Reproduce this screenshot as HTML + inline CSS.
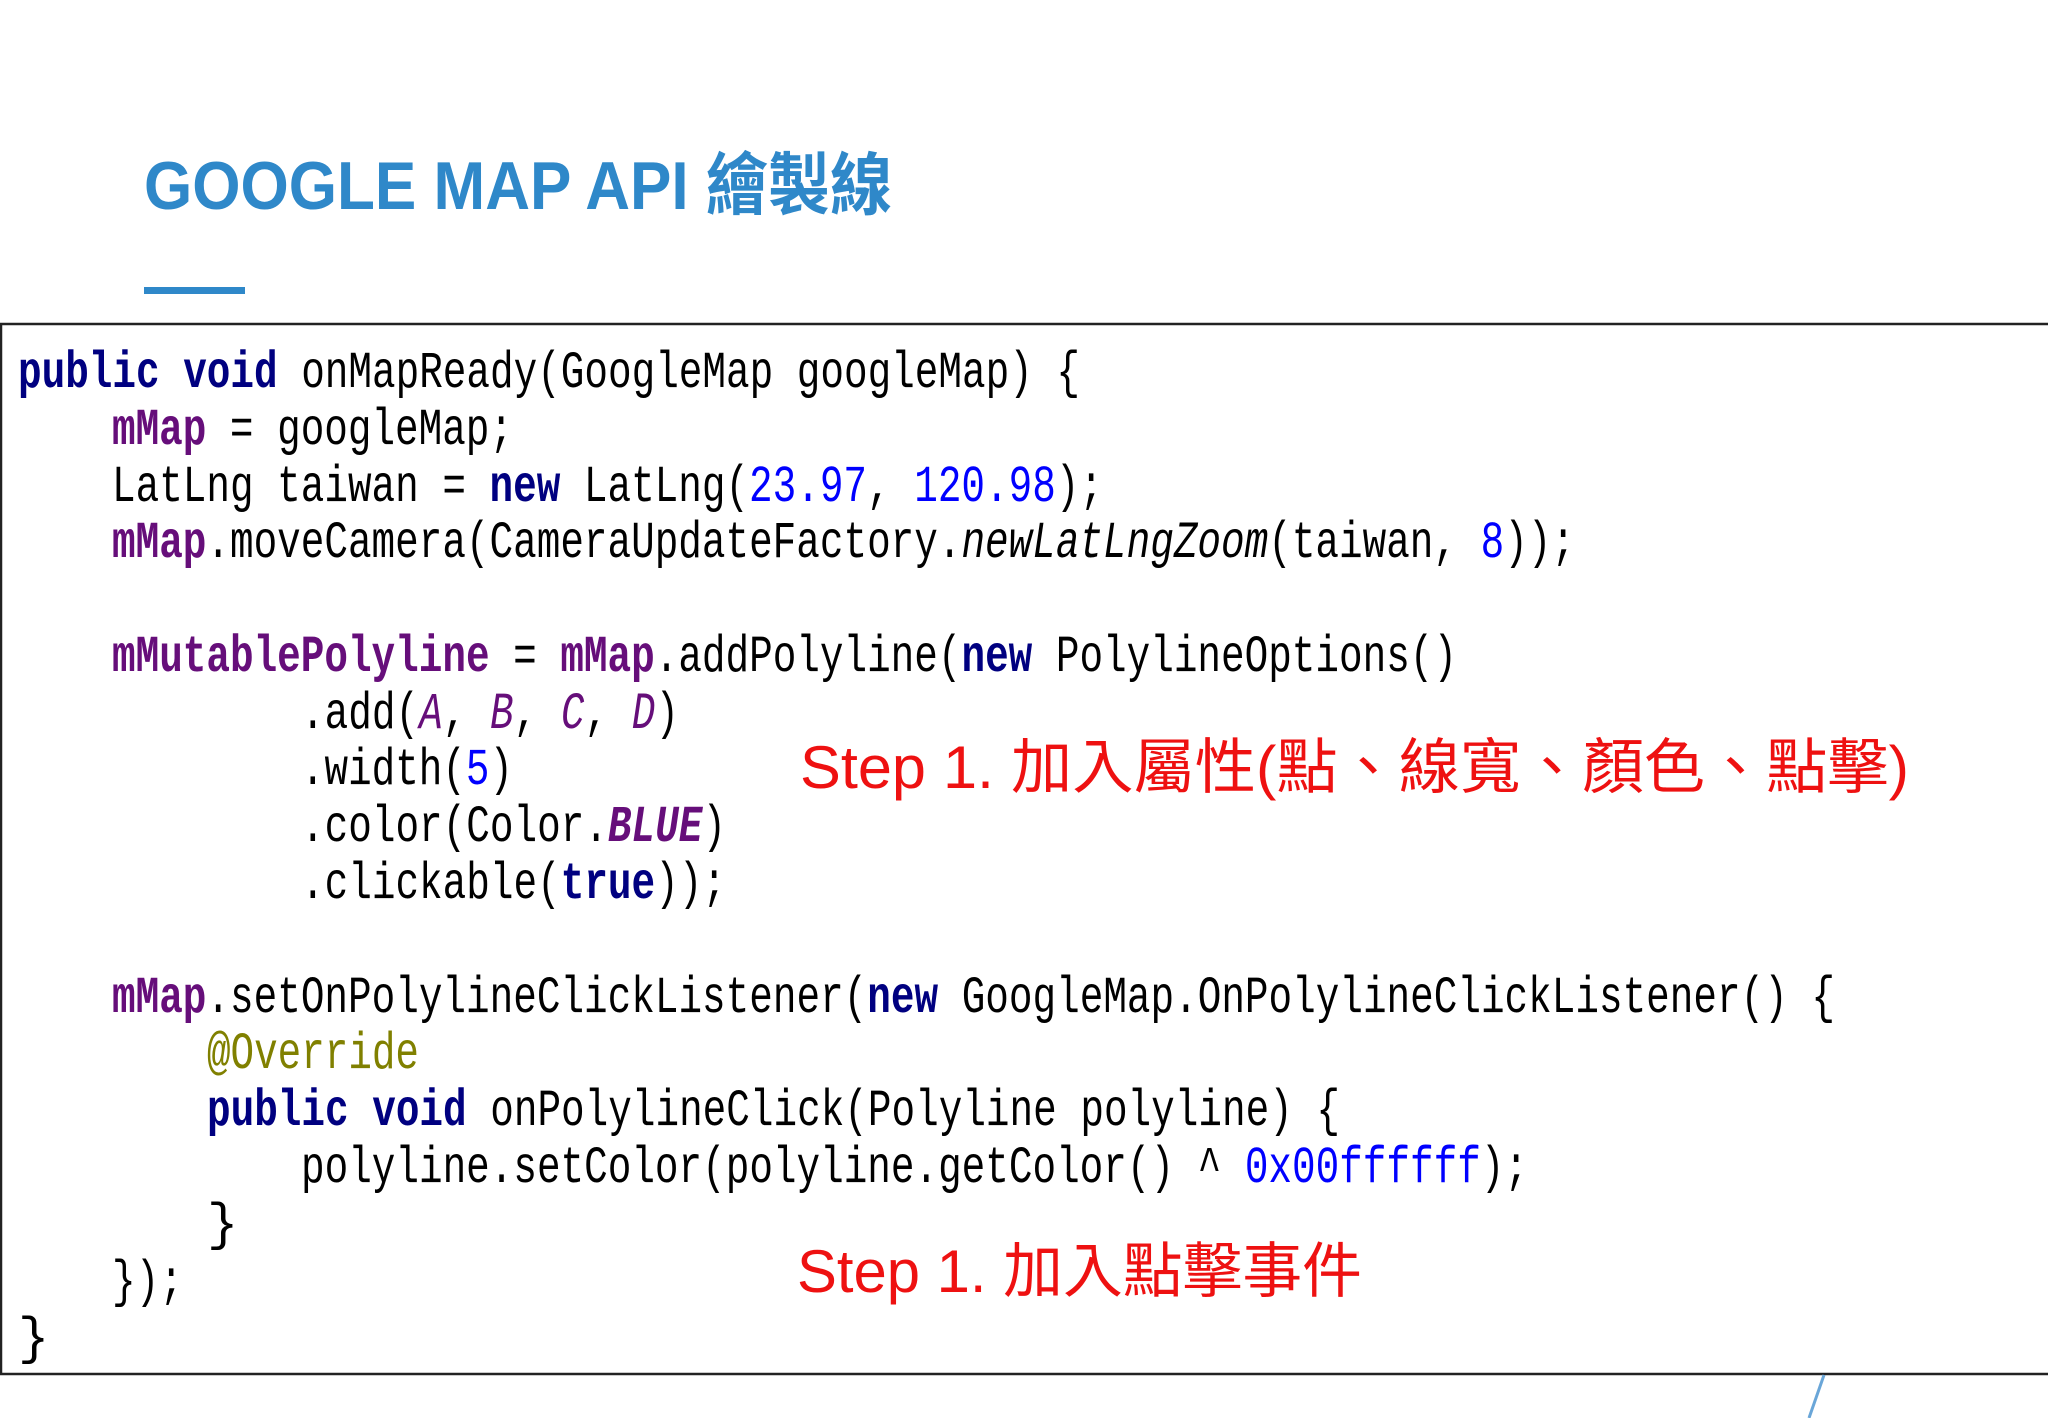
<!DOCTYPE html>
<html><head><meta charset="utf-8"><style>
html,body{margin:0;padding:0;background:#fff;}
svg{display:block;}
.c{font-family:"Liberation Mono",monospace;font-size:52px;fill:#000;}
.k{fill:#000080;font-weight:bold;}
.m{fill:#660e7a;font-weight:bold;}
.n{fill:#0000ff;}
.i{font-style:italic;}
.pi{fill:#660e7a;font-style:italic;}
.o{fill:#808000;}
.s{font-family:"Liberation Sans","Noto Sans CJK TC",sans-serif;font-size:60px;fill:#ee1111;}
</style></head><body>
<svg width="2048" height="1418" viewBox="0 0 2048 1418" xmlns="http://www.w3.org/2000/svg">
<rect width="2048" height="1418" fill="#fff"/>
<text x="144" y="209" textLength="748" lengthAdjust="spacingAndGlyphs" style="font-family:'Liberation Sans','Noto Sans CJK TC',sans-serif;font-weight:bold;font-size:68px;fill:#2f88c9">GOOGLE MAP API 繪製線</text>
<rect x="144" y="287" width="101" height="7" fill="#2f88c9"/>
<rect x="1" y="324" width="2060" height="1050" fill="#fff" stroke="#222" stroke-width="2.5"/>
<line x1="1824" y1="1375" x2="1809" y2="1418" stroke="#6aa6d8" stroke-width="3"/>
<g class="c">
<text x="18" y="387" textLength="1062" lengthAdjust="spacingAndGlyphs"><tspan class="k">public void</tspan> onMapReady(GoogleMap googleMap) {</text>
<text x="112" y="444" textLength="401" lengthAdjust="spacingAndGlyphs"><tspan class="m">mMap</tspan> = googleMap;</text>
<text x="112" y="501" textLength="991" lengthAdjust="spacingAndGlyphs">LatLng taiwan = <tspan class="k">new</tspan> LatLng(<tspan class="n">23.97</tspan>, <tspan class="n">120.98</tspan>);</text>
<text x="112" y="557" textLength="1463" lengthAdjust="spacingAndGlyphs"><tspan class="m">mMap</tspan>.moveCamera(CameraUpdateFactory.<tspan class="i">newLatLngZoom</tspan>(taiwan, <tspan class="n">8</tspan>));</text>
<text x="112" y="671" textLength="1345" lengthAdjust="spacingAndGlyphs"><tspan class="m">mMutablePolyline</tspan> = <tspan class="m">mMap</tspan>.addPolyline(<tspan class="k">new</tspan> PolylineOptions()</text>
<text x="301" y="728" textLength="378" lengthAdjust="spacingAndGlyphs">.add(<tspan class="pi">A</tspan>, <tspan class="pi">B</tspan>, <tspan class="pi">C</tspan>, <tspan class="pi">D</tspan>)</text>
<text x="301" y="784" textLength="212" lengthAdjust="spacingAndGlyphs">.width(<tspan class="n">5</tspan>)</text>
<text x="301" y="841" textLength="425" lengthAdjust="spacingAndGlyphs">.color(Color.<tspan class="m i">BLUE</tspan>)</text>
<text x="301" y="898" textLength="425" lengthAdjust="spacingAndGlyphs">.clickable(<tspan class="k">true</tspan>));</text>
<text x="112" y="1012" textLength="1723" lengthAdjust="spacingAndGlyphs"><tspan class="m">mMap</tspan>.setOnPolylineClickListener(<tspan class="k">new</tspan> GoogleMap.OnPolylineClickListener() {</text>
<text x="207" y="1068" textLength="212" lengthAdjust="spacingAndGlyphs" class="o">@Override</text>
<text x="207" y="1125" textLength="1133" lengthAdjust="spacingAndGlyphs"><tspan class="k">public void</tspan> onPolylineClick(Polyline polyline) {</text>
<text x="301" y="1182" textLength="1227" lengthAdjust="spacingAndGlyphs">polyline.setColor(polyline.getColor() ^ <tspan class="n">0x00ffffff</tspan>);</text>
<text x="207" y="1239">}</text>
<text x="112" y="1296" textLength="71" lengthAdjust="spacingAndGlyphs">});</text>
<text x="18" y="1353">}</text>
</g>
<text class="s" x="800" y="788" textLength="1109" lengthAdjust="spacingAndGlyphs">Step 1. 加入屬性(點、線寬、顏色、點擊)</text>
<text class="s" x="797" y="1292" textLength="565" lengthAdjust="spacingAndGlyphs">Step 1. 加入點擊事件</text>
</svg>
</body></html>
